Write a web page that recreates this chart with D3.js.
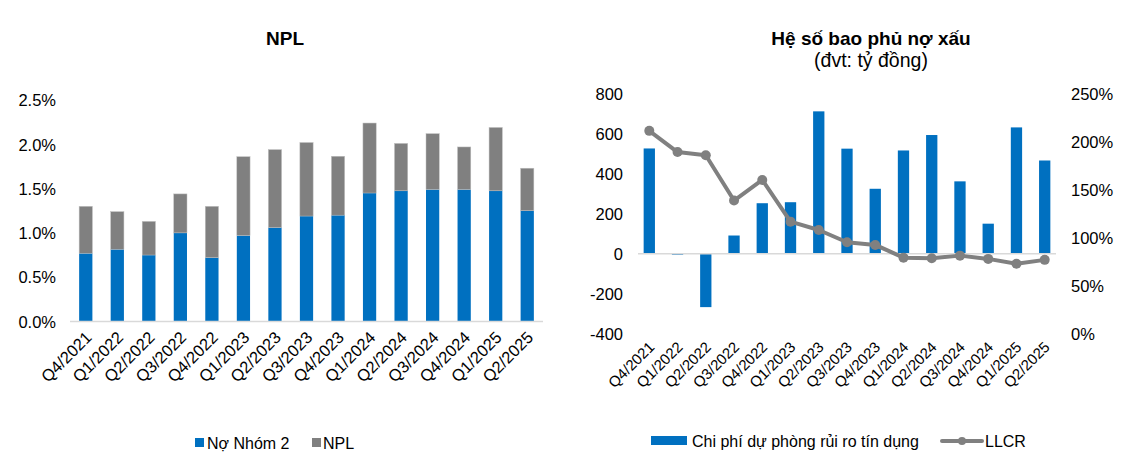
<!DOCTYPE html>
<html lang="vi">
<head>
<meta charset="utf-8">
<title>NPL va LLCR</title>
<script src="https://d3js.org/d3.v7.min.js"></script>
<style>
    body { margin: 0; background: #fff; }
    svg text { font-family: "Liberation Sans", Arial, sans-serif; fill: #000; }
    .title { font-size: 19px; font-weight: bold; }
    .tick text { font-size: 16.5px; }
    .xr .tick text { font-size: 15px; }
    .legend text { font-size: 16px; }
</style>
</head>
<body>
<div id="chart"></div>
<script>
    const quarters = ["Q4/2021", "Q1/2022", "Q2/2022", "Q3/2022", "Q4/2022", "Q1/2023", "Q2/2023",
        "Q3/2023", "Q4/2023", "Q1/2024", "Q2/2024", "Q3/2024", "Q4/2024", "Q1/2025", "Q2/2025"];

    // left chart, % of loans
    const nhom2 = [0.77, 0.815, 0.75, 1.00, 0.72, 0.97, 1.06, 1.19, 1.20, 1.45, 1.475, 1.49, 1.49, 1.475, 1.25];
    const npl = [0.53, 0.425, 0.38, 0.44, 0.58, 0.89, 0.88, 0.83, 0.665, 0.79, 0.535, 0.63, 0.48, 0.715, 0.48];
    const nplTicks = [0, 0.5, 1.0, 1.5, 2.0, 2.5];

    // right chart
    const provision = [525, -5, -266, 91, 252, 257, 710, 524, 324, 515, 592, 361, 150, 630, 465];
    const llcr = [211, 189, 185.7, 138.6, 160, 116.7, 108, 95.3, 92.5, 79.3, 78.7, 81.4, 78, 73, 77];
    const provTicks = [-400, -200, 0, 200, 400, 600, 800];
    const llcrTicks = [0, 50, 100, 150, 200, 250];

    const blue = "#0070C0", grey = "#808080", axisGrey = "#d9d9d9";

    const svg = d3.select("#chart").append("svg")
        .attr("width", 1136).attr("height", 461);

    // ---------- NPL ----------
    const g1 = svg.append("g");
    const x1 = d3.scaleBand().domain(quarters).range([70, 543]).paddingInner(0.58).paddingOuter(0.29);
    const y1 = d3.scaleLinear().domain([0, 2.5]).range([321.5, 100]);

    g1.append("text").attr("class", "title").attr("x", 285).attr("y", 45)
        .attr("text-anchor", "middle").text("NPL");

    g1.append("g").attr("transform", "translate(56,0)")
        .call(d3.axisLeft(y1).tickValues(nplTicks).tickFormat(d => d.toFixed(1) + "%").tickSize(0).tickPadding(0))
        .call(g => g.select(".domain").remove())
        .call(g => g.selectAll("text").attr("dy", "0.35em"));

    const stacked = quarters.map((q, i) => ({q, a: nhom2[i], b: npl[i]}));
    g1.selectAll(".b1").data(stacked).join("rect")
        .attr("x", d => x1(d.q)).attr("width", x1.bandwidth())
        .attr("y", d => y1(d.a)).attr("height", d => y1(0) - y1(d.a))
        .attr("fill", blue);
    g1.selectAll(".b2").data(stacked).join("rect")
        .attr("x", d => x1(d.q)).attr("width", x1.bandwidth())
        .attr("y", d => y1(d.a + d.b)).attr("height", d => y1(d.a) - y1(d.a + d.b))
        .attr("fill", grey).attr("stroke", "#bfbfbf").attr("stroke-width", 0.5);

    g1.append("line").attr("x1", 70).attr("x2", 543).attr("y1", y1(0)).attr("y2", y1(0))
        .attr("stroke", axisGrey).attr("stroke-width", 1.5);

    g1.append("g").attr("transform", `translate(0,${y1(0)})`)
        .call(d3.axisBottom(x1).tickSize(0).tickPadding(0))
        .call(g => g.select(".domain").remove())
        .call(g => g.selectAll("text")
            .attr("text-anchor", "end").attr("dy", null).attr("y", 0)
            .attr("transform", "translate(7,17) rotate(-45)"));

    const leg1 = g1.append("g").attr("class", "legend");
    leg1.append("rect").attr("x", 195).attr("y", 438).attr("width", 9).attr("height", 9).attr("fill", blue);
    leg1.append("text").attr("x", 207).attr("y", 448.5).text("Nợ Nhóm 2");
    leg1.append("rect").attr("x", 312).attr("y", 438).attr("width", 9).attr("height", 9).attr("fill", grey);
    leg1.append("text").attr("x", 323).attr("y", 448.5).text("NPL");

    // ---------- Hệ số bao phủ ----------
    const g2 = svg.append("g");
    const x2 = d3.scaleBand().domain(quarters).range([638, 1056]).paddingInner(0.6).paddingOuter(0.2);
    const y2 = d3.scaleLinear().domain([-400, 800]).range([334, 93.3]);
    const y3 = d3.scaleLinear().domain([0, 250]).range([334, 93.3]);

    g2.append("text").attr("class", "title").attr("x", 871).attr("y", 45)
        .attr("text-anchor", "middle").text("Hệ số bao phủ nợ xấu");
    g2.append("text").attr("x", 871).attr("y", 67).attr("text-anchor", "middle")
        .style("font-size", "19.5px").text("(đvt: tỷ đồng)");

    g2.append("g").attr("transform", "translate(623,0)")
        .call(d3.axisLeft(y2).tickValues(provTicks).tickFormat(d => String(d)).tickSize(0).tickPadding(0))
        .call(g => g.select(".domain").remove())
        .call(g => g.selectAll("text").attr("dy", "0.35em"));

    g2.append("g").attr("transform", "translate(1071,0)")
        .call(d3.axisRight(y3).tickValues(llcrTicks).tickFormat(d => d + "%").tickSize(0).tickPadding(0))
        .call(g => g.select(".domain").remove())
        .call(g => g.selectAll("text").attr("dy", "0.35em"));

    g2.selectAll(".pb").data(quarters).join("rect")
        .attr("x", d => x2(d)).attr("width", x2.bandwidth())
        .attr("y", (d, i) => y2(Math.max(0, provision[i])))
        .attr("height", (d, i) => Math.abs(y2(provision[i]) - y2(0)))
        .attr("fill", blue);

    g2.append("line").attr("x1", 638).attr("x2", 1056).attr("y1", y2(0)).attr("y2", y2(0))
        .attr("stroke", axisGrey).attr("stroke-width", 1.5);

    const cx = d => x2(d) + x2.bandwidth() / 2;
    g2.append("path").datum(quarters)
        .attr("fill", "none").attr("stroke", grey).attr("stroke-width", 4).attr("stroke-linejoin", "round")
        .attr("d", d3.line().x(d => cx(d)).y((d, i) => y3(llcr[i])));
    g2.selectAll(".pt").data(quarters).join("circle")
        .attr("cx", d => cx(d)).attr("cy", (d, i) => y3(llcr[i])).attr("r", 5).attr("fill", grey);

    g2.append("g").attr("class", "xr").attr("transform", `translate(0,${y2(-400)})`)
        .call(d3.axisBottom(x2).tickSize(0).tickPadding(0))
        .call(g => g.select(".domain").remove())
        .call(g => g.selectAll("text")
            .attr("text-anchor", "end").attr("dy", null).attr("y", 0)
            .attr("transform", "translate(6,14) rotate(-45)"));

    const leg2 = g2.append("g").attr("class", "legend");
    leg2.append("rect").attr("x", 651).attr("y", 436).attr("width", 36).attr("height", 9).attr("fill", blue);
    leg2.append("text").attr("x", 692).attr("y", 447).text("Chi phí dự phòng rủi ro tín dụng");
    leg2.append("line").attr("x1", 942).attr("x2", 982).attr("y1", 441).attr("y2", 441)
        .attr("stroke", grey).attr("stroke-width", 4).attr("stroke-linecap", "round");
    leg2.append("circle").attr("cx", 962).attr("cy", 441).attr("r", 4).attr("fill", grey);
    leg2.append("text").attr("x", 985).attr("y", 447).text("LLCR");
</script>
</body>
</html>
